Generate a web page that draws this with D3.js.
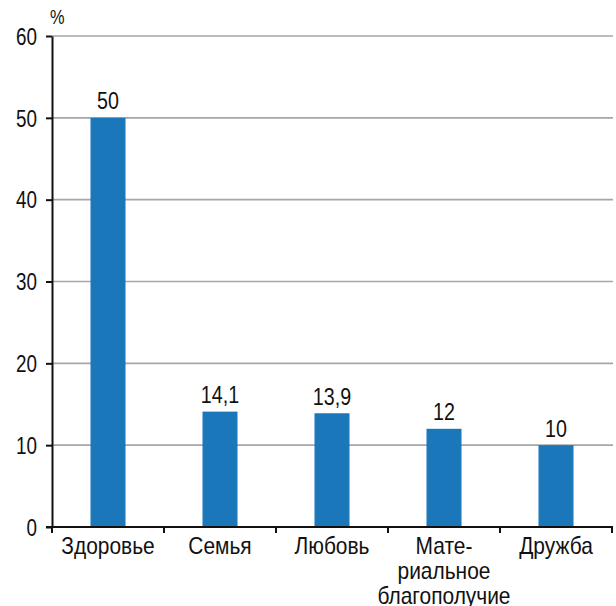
<!DOCTYPE html>
<html>
<head>
<meta charset="utf-8">
<script src="https://cdn.jsdelivr.net/npm/d3@7/dist/d3.min.js"></script>
<style>
  html, body { margin: 0; padding: 0; background: #fff; }
  svg text { font-family: "Liberation Sans", Arial, sans-serif; fill: #111; }
</style>
</head>
<body>
<svg id="chart" width="616" height="606"></svg>
<script>
// Values of life: share of respondents, %
const categories = [["Здоровье"], ["Семья"], ["Любовь"], ["Мате-", "риальное", "благополучие"], ["Дружба"]];
const values = [50, 14.1, 13.9, 12, 10];
const valueLabels = ["50", "14,1", "13,9", "12", "10"];
const yTicks = [0, 10, 20, 30, 40, 50, 60];
const yUnit = "%";

const svg = d3.select("#chart");
const plotL = 52, plotR = 612, plotT = 36, plotB = 527;
const SX = 0.82; // horizontal squeeze for a narrow type look

// narrow each text around its own x anchor
function squeeze(sel, sx) {
  sel.each(function () {
    const t = d3.select(this);
    const ax = +t.attr("x") || 0;
    t.attr("transform", `translate(${ax},0) scale(${sx},1) translate(${-ax},0)`);
  });
}

const x = d3.scaleBand().domain(d3.range(categories.length)).range([plotL, plotR]).paddingInner(0).paddingOuter(0);
const y = d3.scaleLinear().domain([0, 60]).range([plotB, plotT]);
const barW = x.bandwidth() * 0.3125;

// horizontal grid
svg.append("g").selectAll("line").data(yTicks.filter(d => d > 0)).join("line")
  .attr("x1", plotL).attr("x2", plotR + 1)
  .attr("y1", d => y(d)).attr("y2", d => y(d))
  .attr("stroke", "#a6a6a6").attr("stroke-width", 1.6);

// bars
svg.append("g").selectAll("rect").data(values).join("rect")
  .attr("x", (d, i) => x(i) + x.bandwidth() / 2 - barW / 2)
  .attr("width", barW)
  .attr("y", d => y(d))
  .attr("height", d => y(0) - y(d))
  .attr("fill", "#1a77ba");

// value labels
const vals = svg.append("g").selectAll("text").data(values).join("text")
  .attr("x", (d, i) => x(i) + x.bandwidth() / 2)
  .attr("y", d => y(d) - 8.5)
  .attr("text-anchor", "middle")
  .attr("font-size", 24)
  .text((d, i) => valueLabels[i]);
squeeze(vals, SX);

// y axis
const yAxis = d3.axisLeft(y).tickValues(yTicks).tickSize(6).tickPadding(9).tickSizeOuter(0);
const gy = svg.append("g").attr("transform", `translate(${plotL},0)`).call(yAxis);
gy.select(".domain").attr("stroke", "#111").attr("stroke-width", 2);
gy.selectAll(".tick line").attr("stroke", "#111").attr("stroke-width", 2);
const yt = gy.selectAll(".tick text").attr("font-size", 23).attr("dy", "0.36em");
squeeze(yt, SX);

// x axis: baseline with ticks at category boundaries
const edges = d3.range(categories.length + 1).map(i => plotL + i * x.bandwidth());
svg.append("line").attr("x1", plotL - 6).attr("x2", plotR + 1)
  .attr("y1", plotB).attr("y2", plotB)
  .attr("stroke", "#111").attr("stroke-width", 2);
svg.append("g").selectAll("line").data(edges).join("line")
  .attr("x1", d => d).attr("x2", d => d)
  .attr("y1", plotB).attr("y2", plotB + 6)
  .attr("stroke", "#111").attr("stroke-width", 2);

// category labels
const cat = svg.append("g").selectAll("text").data(categories).join("text")
  .attr("x", (d, i) => x(i) + x.bandwidth() / 2)
  .attr("text-anchor", "middle")
  .attr("font-size", 23);
cat.each(function (lines, i) {
  d3.select(this).selectAll("tspan").data(lines).join("tspan")
    .attr("x", x(i) + x.bandwidth() / 2)
    .attr("y", (l, j) => 554 + j * 25)
    .text(l => l);
});
squeeze(cat, 0.91);

// unit
const unit = svg.append("text").attr("x", 50).attr("y", 24).attr("font-size", 20).text(yUnit);
squeeze(unit, SX);
</script>
</body>
</html>
